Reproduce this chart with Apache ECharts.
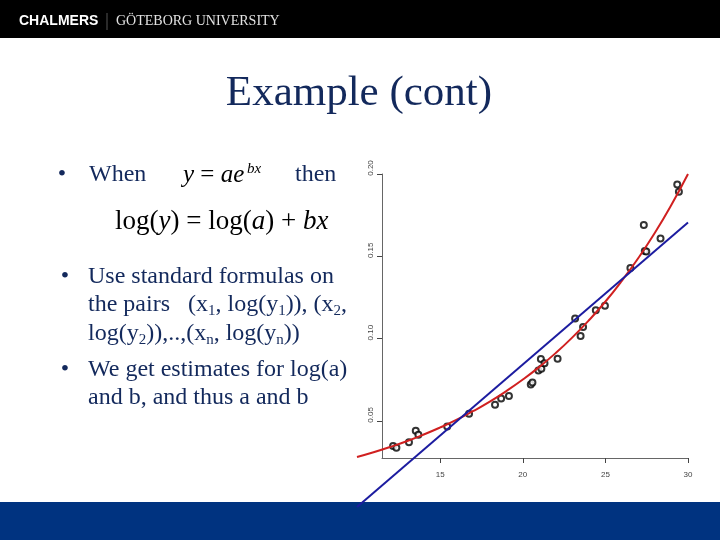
<!DOCTYPE html>
<html>
<head>
<meta charset="utf-8">
<script src="https://cdn.jsdelivr.net/npm/echarts@6/dist/echarts.min.js"></script>
<style>
html,body{margin:0;padding:0;background:#fff;}
#c{width:720px;height:540px;}
</style>
</head>
<body>
<div id="c"></div>
<script>
// Observed points (x, y)
var pointX = [12.18,12.38,13.14,13.55,13.71,15.45,16.77,18.34,18.71,19.18,20.50,20.60,20.96,21.14,21.11,21.33,22.12,23.18,23.51,23.66,24.43,24.98,26.52,27.33,27.39,27.48,28.34,29.35,29.45];
var pointY = [0.0348,0.0338,0.0370,0.0440,0.0416,0.0467,0.0544,0.0598,0.0636,0.0651,0.0722,0.0733,0.0807,0.0817,0.0876,0.0851,0.0878,0.1122,0.1016,0.1070,0.1172,0.1199,0.1429,0.1690,0.1533,0.1530,0.1608,0.1936,0.1892];
// Exponential fit curve (red)
var redX = [10,11,12,13,14,15,16,17,18,19,20,21,22,23,24,25,26,27,28,29,30];
var redY = [0.0281,0.0310,0.0342,0.0377,0.0416,0.0459,0.0506,0.0559,0.0616,0.0680,0.0750,0.0827,0.0912,0.1006,0.1110,0.1224,0.1351,0.1490,0.1643,0.1813,0.2000];
// Linear fit (blue)
var blueX = [10,30];
var blueY = [-0.0023,0.1705];
// Tick labels
var xTicks = [15,20,25,30];
var yTicks = [0.05,0.10,0.15,0.20];

var navy = '#13295c';
var serif = '"Liberation Serif","Times New Roman",serif';
var sans = '"Liberation Sans",Arial,sans-serif';

function zip(a,b){return a.map(function(v,i){return [v,b[i]];});}

var chart = echarts.init(document.getElementById('c'), null, {renderer:'canvas'});

var richMain = {
  s:{fontSize:15,lineHeight:15,padding:[13,0,0,0],fontFamily:serif,color:navy}
};
var richEq = {
  i:{fontStyle:'italic',fontSize:27,fontFamily:serif,color:'#000'},
  r:{fontSize:27,fontFamily:serif,color:'#000'}
};

function txt(x,y,text,extra){
  var st = {x:x,y:y,text:text,fill:navy,font:'24px '+serif,fontSize:24,fontFamily:serif,verticalAlign:'middle',align:'left',lineHeight:28};
  if(extra){for(var k in extra){st[k]=extra[k];}}
  return {type:'text',z:10,style:st};
}

var hidden = {show:false};

var option = {
  animation:false,
  backgroundColor:'#fff',
  grid:[
    {left:357,right:32,top:174,bottom:82,containLabel:false},
    {left:382,right:32,top:174,bottom:82,containLabel:false}
  ],
  xAxis:[
    {gridIndex:0,type:'value',min:10,max:30,axisLine:hidden,axisTick:hidden,axisLabel:hidden,splitLine:hidden},
    {gridIndex:1,type:'value',min:11.475,max:30,
      axisLine:{show:true,lineStyle:{color:'#666',width:1}},
      axisTick:{show:true,length:5,customValues:xTicks,lineStyle:{color:'#444'}},
      axisLabel:{customValues:xTicks,margin:13,fontSize:8,color:'#444',fontFamily:sans},
      splitLine:{show:false}}
  ],
  yAxis:[
    {gridIndex:0,type:'value',min:0.0275,max:0.20,axisLine:hidden,axisTick:hidden,axisLabel:hidden,splitLine:hidden},
    {gridIndex:1,type:'value',min:0.0275,max:0.20,
      axisLine:{show:true,lineStyle:{color:'#666',width:1}},
      axisTick:{show:true,length:5,customValues:yTicks,lineStyle:{color:'#444'}},
      axisLabel:{customValues:yTicks,rotate:90,margin:7,fontSize:8,color:'#444',fontFamily:sans,padding:[0,0,0,12],
        formatter:function(v){return v.toFixed(2);}},
      splitLine:{show:false}}
  ],
  series:[
    {type:'scatter',xAxisIndex:0,yAxisIndex:0,data:zip(pointX,pointY),symbol:'emptyCircle',symbolSize:6,
      itemStyle:{color:'#000',borderColor:'#000',borderWidth:2.3},z:3},
    {type:'line',xAxisIndex:0,yAxisIndex:0,data:zip(redX,redY),smooth:true,showSymbol:false,clip:false,
      lineStyle:{color:'#d02020',width:2},z:4},
    {type:'line',xAxisIndex:0,yAxisIndex:0,data:zip(blueX,blueY),showSymbol:false,clip:false,
      lineStyle:{color:'#1c1ca0',width:2},z:4}
  ],
  graphic:[
    {type:'rect',z:-1,silent:true,shape:{x:0,y:0,width:720,height:38},style:{fill:'#000'}},
    {type:'text',z:10,style:{x:19,y:21,text:'CHALMERS',fill:'#fff',font:'bold 14px '+sans,verticalAlign:'middle'}},
    {type:'line',z:10,shape:{x1:107,y1:13,x2:107,y2:30},style:{stroke:'#555',lineWidth:1}},
    {type:'text',z:10,style:{x:116,y:21,text:'GÖTEBORG UNIVERSITY',fill:'#e2e2e2',font:'14px '+serif,verticalAlign:'middle'}},
    {type:'rect',z:-1,silent:true,shape:{x:0,y:502,width:720,height:38},style:{fill:'#003380'}},
    {type:'text',z:10,style:{x:359,y:94,text:'Example (cont)',fill:navy,font:'43px '+serif,align:'center',verticalAlign:'middle'}},
    // bullet 1
    txt(62,175,'•',{font:'15px '+sans,align:'center'}),
    txt(89,175,'When'),
    {type:'text',z:10,style:{x:183,y:175,verticalAlign:'middle',text:'{i|y}{r| = }{i|ae}',rich:{
      i:{fontStyle:'italic',fontSize:25,fontFamily:serif,color:'#000'},
      r:{fontSize:25,fontFamily:serif,color:'#000'}}}},
    {type:'text',z:10,style:{x:247,y:169,verticalAlign:'middle',text:'bx',fill:'#000',font:'italic 15px '+serif}},
    txt(295,175,'then'),
    {type:'text',z:10,style:{x:115,y:222,verticalAlign:'middle',
      text:'{r|log(}{i|y}{r|) = log(}{i|a}{r|) + }{i|bx}',rich:richEq}},
    // bullet 2
    txt(65,277,'•',{font:'15px '+sans,align:'center'}),
    txt(88,277,'Use standard formulas on'),
    txt(88,305,'the pairs   (x{s|1}, log(y{s|1})), (x{s|2},',{rich:richMain}),
    txt(88,334,'log(y{s|2})),..,(x{s|n}, log(y{s|n}))',{rich:richMain}),
    // bullet 3
    txt(65,370,'•',{font:'15px '+sans,align:'center'}),
    txt(88,370,'We get estimates for log(a)'),
    txt(88,398,'and b, and thus a and b')
  ]
};
chart.setOption(option);
</script>
</body>
</html>
